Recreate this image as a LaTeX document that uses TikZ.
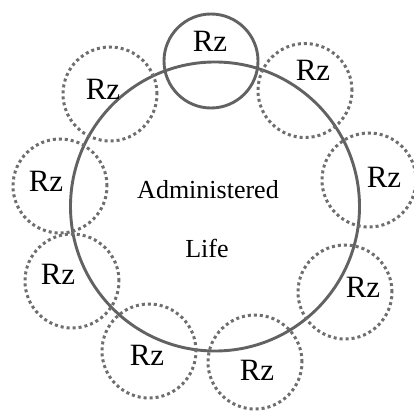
\documentclass[tikz,border=0pt]{standalone}
\usepackage{fontspec}
\setmainfont{Liberation Serif}
\usepackage{tikz}
\definecolor{ringgray}{HTML}{626262}
\definecolor{dotgray}{HTML}{6E6E6E}

\tikzset{
  bigring/.style={draw=ringgray,line width=2.9pt,circle,minimum size=289pt,inner sep=0pt},
  rzring/.style={draw=dotgray,line width=3pt,dash pattern=on 3pt off 3pt,circle,minimum size=94pt,inner sep=0pt},
  rzsolid/.style={draw=ringgray,line width=2.9pt,circle,minimum size=94pt,inner sep=0pt},
  rztext/.style={anchor=base,inner sep=0pt,font=\fontsize{31}{36}\selectfont},
  lifetext/.style={anchor=base,inner sep=0pt,font=\fontsize{26}{30}\selectfont}
}

\begin{document}
\begin{tikzpicture}[x=1pt,y=-1pt]
\useasboundingbox (0,0) rectangle (414,420);
\node[bigring] (life) at (215,206.5) {};
\node[lifetext] (admin) at (208,198) {Administered};
\node[lifetext] (lifeword) at (207,257) {Life};
\foreach \cx/\cy/\tx/\ty/\i in {211/61/210/52/1,305/90.5/313/80/2,369/180/384/187/3,345/292/363/297/4,255/362/257/380/5,149/351/147/365/6,72/281/58/284/7,60/186/46/191/8,110/94/103/99/9}{
  \ifnum\i=1 \node[rzsolid] (ring\i) at (\cx,\cy) {};
  \else \node[rzring] (ring\i) at (\cx,\cy) {}; \fi
  \node[rztext] (rz\i) at (\tx,\ty) {Rz};
}
\end{tikzpicture}
\end{document}
